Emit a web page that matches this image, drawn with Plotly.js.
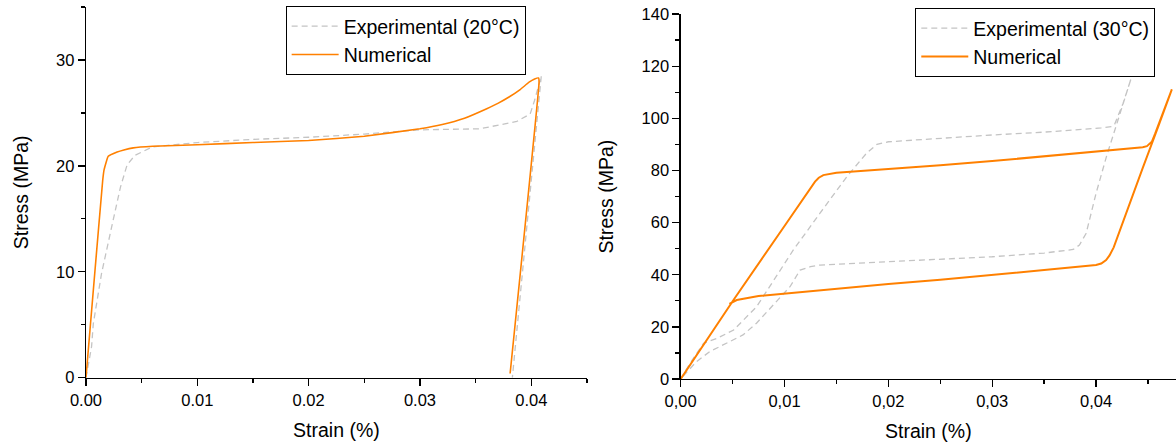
<!DOCTYPE html>
<html>
<head>
<meta charset="utf-8">
<script src="https://cdn.plot.ly/plotly-3.0.1.min.js"></script>
<style>
  html, body { margin: 0; padding: 0; background: #fff; }
  #chart { width: 1176px; height: 445px; }
</style>
</head>
<body>
<div id="chart"></div>
<script>
// ---- Left panel (20°C) ----
const exp20Strain = [0, 0.0005, 0.00066, 0.0014, 0.0023, 0.0031, 0.0037, 0.0044, 0.006, 0.008, 0.01, 0.015, 0.02, 0.025, 0.03, 0.0354, 0.0387, 0.0399, 0.0403, 0.0409, 0.0384, 0.0383];
const exp20Stress = [0, 2.9, 5.1, 9.85, 14.2, 18.0, 20.1, 21.0, 21.8, 22.0, 22.2, 22.5, 22.7, 23.0, 23.4, 23.5, 24.2, 24.9, 26.2, 28.5, 0.9, 0];
const num20Strain = [0, 0.0004, 0.0008, 0.0015, 0.00162, 0.002, 0.0028, 0.0034, 0.00425, 0.006, 0.01, 0.015, 0.02, 0.025, 0.03, 0.032, 0.034, 0.036, 0.037, 0.038, 0.039, 0.0398, 0.0403, 0.04065, 0.0407, 0.0381];
const num20Stress = [0, 5, 10, 18.6, 19.6, 20.9, 21.3, 21.5, 21.7, 21.85, 22.0, 22.2, 22.4, 22.8, 23.5, 23.9, 24.5, 25.4, 25.9, 26.5, 27.2, 27.9, 28.2, 28.3, 27.9, 0.4];

// ---- Right panel (30°C) ----
const exp30Strain = [0, 0.0009, 0.0022, 0.0035, 0.0051, 0.0073, 0.0083, 0.01085, 0.0134, 0.016, 0.0179, 0.0189, 0.02, 0.025, 0.03, 0.035, 0.0381, 0.0405, 0.0415, 0.0418, 0.0426, 0.04338,
                     0.0426, 0.041, 0.04, 0.03905, 0.0384, 0.0378, 0.035, 0.03, 0.02, 0.0134, 0.0125, 0.0115, 0.01053, 0.0083, 0.0073, 0.006, 0.0047, 0.0028, 0.0015, 0];
const exp30Stress = [0, 6, 13.7, 15.6, 18.8, 27.7, 33.8, 49.5, 63.5, 77.6, 86.6, 90.0, 91.0, 92.4, 93.6, 94.7, 95.5, 96.3, 96.8, 97.8, 105.7, 115.3,
                     105.7, 85.3, 71.2, 55.9, 51.4, 49.7, 48.3, 46.9, 45.0, 43.7, 43.1, 41.8, 35.4, 25.8, 21.4, 16.9, 14.3, 10.5, 6.6, 0];
const num30Strain = [0, 0.0052, 0.01, 0.0125, 0.01294, 0.0133, 0.01374, 0.015, 0.0192, 0.025, 0.03, 0.035, 0.04, 0.043, 0.0445, 0.0449, 0.04537, 0.0457, 0.0465, 0.0473,
                     0.0461, 0.0445, 0.04226, 0.0417, 0.0413, 0.04097, 0.0405, 0.04, 0.035, 0.03, 0.025, 0.02, 0.015, 0.01, 0.0075, 0.0054, 0.00469];
const num30Stress = [0, 31, 58.7, 73.5, 75.7, 77.2, 78.2, 79.1, 80.2, 82.0, 83.6, 85.4, 87.2, 88.3, 88.9, 89.3, 91.0, 94.2, 102.5, 111.1,
                     98.0, 81.0, 56.6, 50.5, 47.4, 45.6, 44.3, 43.7, 41.8, 39.9, 38.1, 36.4, 34.6, 32.9, 31.8, 30.3, 28.8];

const xTickVals30 = [0, 0.01, 0.02, 0.03, 0.04];
const xTickText30 = ['0,00', '0,01', '0,02', '0,03', '0,04'];

const ORANGE = '#ff8000';
const GREY = '#c4c4c4';
const FONT = 'Liberation Sans, Arial, sans-serif';

const traces = [
  { x: exp20Strain, y: exp20Stress, type: 'scatter', mode: 'lines', name: 'Experimental (20°C)',
    line: { color: GREY, width: 1.3, dash: '6px,4px' }, xaxis: 'x', yaxis: 'y', legend: 'legend' },
  { x: num20Strain, y: num20Stress, type: 'scatter', mode: 'lines', name: 'Numerical',
    line: { color: ORANGE, width: 1.6, shape: 'spline', smoothing: 0.3 }, xaxis: 'x', yaxis: 'y', legend: 'legend' },
  { x: exp30Strain, y: exp30Stress, type: 'scatter', mode: 'lines', name: 'Experimental (30°C)',
    line: { color: GREY, width: 1.3, dash: '6px,4px' }, xaxis: 'x2', yaxis: 'y2', legend: 'legend2' },
  { x: num30Strain, y: num30Stress, type: 'scatter', mode: 'lines', name: 'Numerical',
    line: { color: ORANGE, width: 2 }, xaxis: 'x2', yaxis: 'y2', legend: 'legend2' }
];

const axisCommon = {
  showline: true, linecolor: '#000', linewidth: 1.3, mirror: false,
  ticks: 'outside', ticklen: 7, tickwidth: 1.3, tickcolor: '#000',
  showgrid: false, zeroline: false, automargin: false,
  tickfont: { family: FONT, size: 16.5, color: '#000' },
  minor: { ticks: 'outside', ticklen: 4, tickwidth: 1.3, tickcolor: '#000', showgrid: false }
};

const titleFont = { family: FONT, size: 19.5, color: '#000' };
const legendCommon = {
  xanchor: 'left', yanchor: 'top', bgcolor: '#fff', bordercolor: '#000', borderwidth: 1,
  font: { family: FONT, size: 19.5, color: '#000' }, tracegroupgap: 0, itemwidth: 47
};

const layout = {
  width: 1176, height: 445,
  margin: { l: 0, r: 0, t: 0, b: 0 },
  paper_bgcolor: '#fff', plot_bgcolor: '#fff',
  font: { family: FONT, color: '#000' },
  showlegend: true,
  xaxis: Object.assign({}, axisCommon, {
    domain: [0.0731, 0.4991], range: [0, 0.045], dtick: 0.01, tickformat: '.2f', anchor: 'y',
    minor: Object.assign({}, axisCommon.minor, { dtick: 0.005 }),
    title: { text: 'Strain (%)', font: titleFont, standoff: 15 }
  }),
  yaxis: Object.assign({}, axisCommon, {
    domain: [0.1512, 0.9843], range: [0, 35], dtick: 10, anchor: 'x',
    minor: Object.assign({}, axisCommon.minor, { dtick: 5 }),
    title: { text: 'Stress (MPa)', font: titleFont, standoff: 22 }
  }),
  xaxis2: Object.assign({}, axisCommon, {
    domain: [0.5788, 1.0], range: [0, 0.0477], tickmode: 'array', tickvals: xTickVals30, ticktext: xTickText30, anchor: 'y2',
    minor: Object.assign({}, axisCommon.minor, { dtick: 0.005 }),
    title: { text: 'Strain (%)', font: titleFont, standoff: 15 }
  }),
  yaxis2: Object.assign({}, axisCommon, {
    domain: [0.1483, 0.9685], range: [0, 140], dtick: 20, anchor: 'x2',
    minor: Object.assign({}, axisCommon.minor, { dtick: 10 }),
    title: { text: 'Stress (MPa)', font: titleFont, standoff: 22 }
  }),
  legend: Object.assign({}, legendCommon, { x: 0.2429, y: 0.9865 }),
  legend2: Object.assign({}, legendCommon, { x: 0.7783, y: 0.982 })
};

Plotly.newPlot('chart', traces, layout, { displayModeBar: false, staticPlot: true });
</script>
</body>
</html>
